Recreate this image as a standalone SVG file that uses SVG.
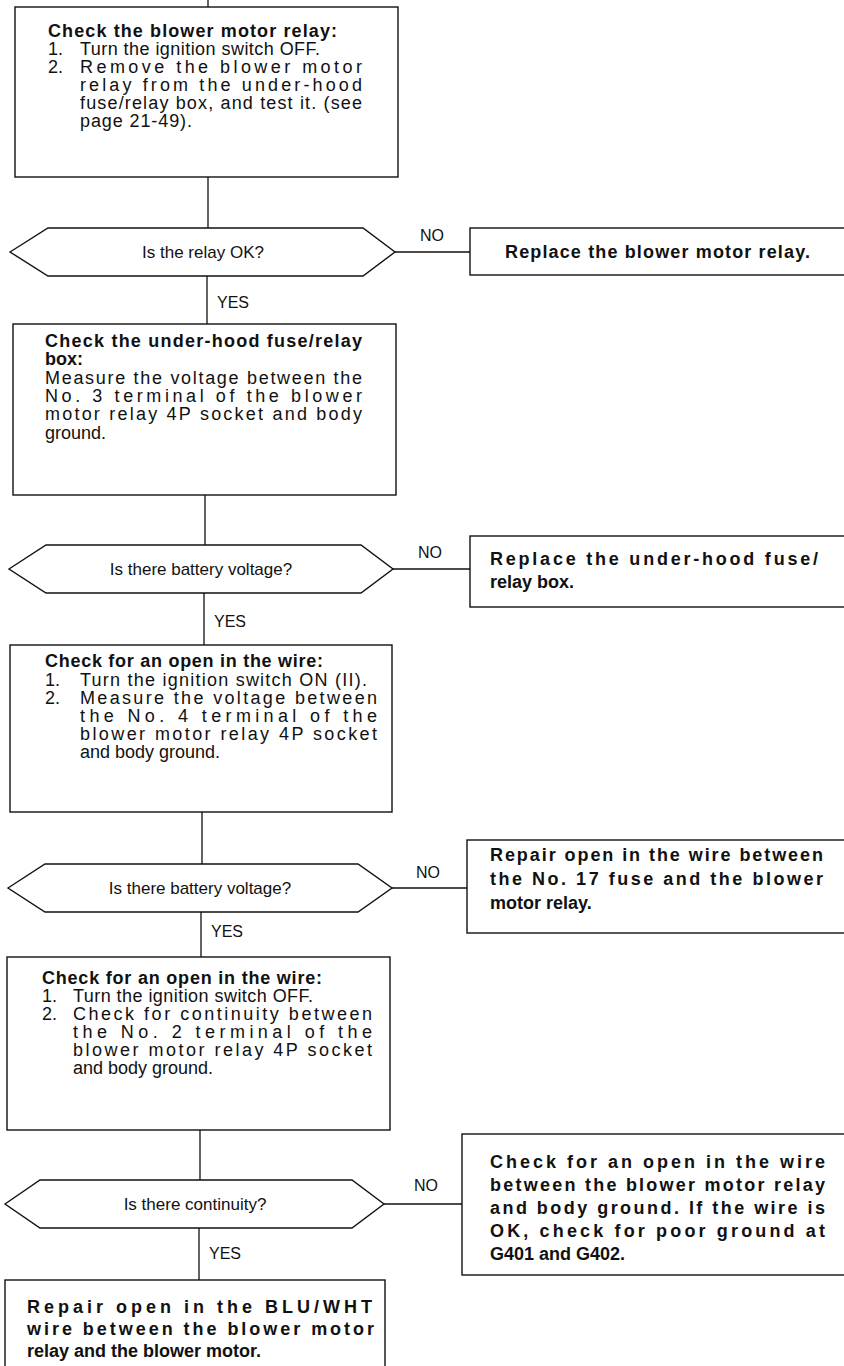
<svg xmlns="http://www.w3.org/2000/svg" width="844" height="1366" viewBox="0 0 844 1366">
<style>
.box{fill:#fff;stroke:#111;stroke-width:1.4}
.ln{fill:none;stroke:#111;stroke-width:1.3}
text{font-family:"Liberation Sans",Arial,sans-serif;fill:#111}
.t{font-size:18px}
.b{font-size:18px;font-weight:bold}
.rb{font-size:18px;font-weight:bold}
.q{font-size:17px;text-anchor:middle}
.lab{font-size:16px}
</style>
<rect width="844" height="1366" fill="#fff"/>
<g id="connectors">
<path class="ln" d="M208 0V7M208 177V228M207 276V324M205 495V545M204 593V645M202 812V864M201 912V957M200 1130V1180M199 1228V1280"/>
<path class="ln" d="M395 252H470M393 569H470M392 888H467M384 1204H462"/>
<text class="lab" x="420" y="241">NO</text>
<text class="lab" x="418" y="558">NO</text>
<text class="lab" x="416" y="878">NO</text>
<text class="lab" x="414" y="1191">NO</text>
<text class="lab" x="217" y="308">YES</text>
<text class="lab" x="214" y="627">YES</text>
<text class="lab" x="211" y="937">YES</text>
<text class="lab" x="209" y="1259">YES</text>
</g>
<g id="n1">
<rect class="box" x="15" y="7" width="383" height="170"/>
<text class="b" x="48" y="37" textLength="289" lengthAdjust="spacing">Check the blower motor relay:</text>
<text class="t" x="48" y="55">1.</text>
<text class="t" x="80" y="55" textLength="240" lengthAdjust="spacing">Turn the ignition switch OFF.</text>
<text class="t" x="48" y="73">2.</text>
<text class="t" x="80" y="73" textLength="282" lengthAdjust="spacing">Remove the blower motor</text>
<text class="t" x="80" y="91" textLength="282" lengthAdjust="spacing">relay from the under-hood</text>
<text class="t" x="80" y="109" textLength="282" lengthAdjust="spacing">fuse/relay box, and test it. (see</text>
<text class="t" x="80" y="127" textLength="112" lengthAdjust="spacing">page 21-49).</text>
</g>
<g id="d1">
<polygon class="box" points="10,252 48,228 363,228 395,252 363,276 48,276"/>
<text class="q" x="203" y="258">Is the relay OK?</text>
</g>
<g id="r1">
<rect class="box" x="470" y="228" width="390" height="47"/>
<text class="rb" x="505" y="258" textLength="305" lengthAdjust="spacing">Replace the blower motor relay.</text>
</g>
<g id="n2">
<rect class="box" x="13" y="324" width="383" height="171"/>
<text class="b" x="45" y="347" textLength="317" lengthAdjust="spacing">Check the under-hood fuse/relay</text>
<text class="b" x="45" y="365">box:</text>
<text class="t" x="45" y="384" textLength="317" lengthAdjust="spacing">Measure the voltage between the</text>
<text class="t" x="45" y="402" textLength="317" lengthAdjust="spacing">No. 3 terminal of the blower</text>
<text class="t" x="45" y="420" textLength="317" lengthAdjust="spacing">motor relay 4P socket and body</text>
<text class="t" x="45" y="439">ground.</text>
</g>
<g id="d2">
<polygon class="box" points="9,569 46,545 361,545 393,569 361,593 46,593"/>
<text class="q" x="201" y="575">Is there battery voltage?</text>
</g>
<g id="r2">
<rect class="box" x="470" y="536" width="390" height="71"/>
<text class="rb" x="490" y="565" textLength="328" lengthAdjust="spacing">Replace the under-hood fuse/</text>
<text class="rb" x="490" y="588">relay box.</text>
</g>
<g id="n3">
<rect class="box" x="10" y="645" width="382" height="167"/>
<text class="b" x="45" y="667" textLength="278" lengthAdjust="spacing">Check for an open in the wire:</text>
<text class="t" x="45" y="686">1.</text>
<text class="t" x="80" y="686" textLength="287" lengthAdjust="spacing">Turn the ignition switch ON (II).</text>
<text class="t" x="45" y="704">2.</text>
<text class="t" x="80" y="704" textLength="297" lengthAdjust="spacing">Measure the voltage between</text>
<text class="t" x="80" y="722" textLength="297" lengthAdjust="spacing">the No. 4 terminal of the</text>
<text class="t" x="80" y="740" textLength="297" lengthAdjust="spacing">blower motor relay 4P socket</text>
<text class="t" x="80" y="758">and body ground.</text>
</g>
<g id="d3">
<polygon class="box" points="8,888 45,864 358,864 392,888 358,912 45,912"/>
<text class="q" x="200" y="894">Is there battery voltage?</text>
</g>
<g id="r3">
<rect class="box" x="467" y="840" width="390" height="93"/>
<text class="rb" x="490" y="861" textLength="333" lengthAdjust="spacing">Repair open in the wire between</text>
<text class="rb" x="490" y="885" textLength="333" lengthAdjust="spacing">the No. 17 fuse and the blower</text>
<text class="rb" x="490" y="909">motor relay.</text>
</g>
<g id="n4">
<rect class="box" x="7" y="957" width="383" height="173"/>
<text class="b" x="42" y="984" textLength="280" lengthAdjust="spacing">Check for an open in the wire:</text>
<text class="t" x="42" y="1002">1.</text>
<text class="t" x="73" y="1002" textLength="240" lengthAdjust="spacing">Turn the ignition switch OFF.</text>
<text class="t" x="42" y="1020">2.</text>
<text class="t" x="73" y="1020" textLength="299" lengthAdjust="spacing">Check for continuity between</text>
<text class="t" x="73" y="1038" textLength="299" lengthAdjust="spacing">the No. 2 terminal of the</text>
<text class="t" x="73" y="1056" textLength="299" lengthAdjust="spacing">blower motor relay 4P socket</text>
<text class="t" x="73" y="1074">and body ground.</text>
</g>
<g id="d4">
<polygon class="box" points="5,1204 40,1180 352,1180 384,1204 352,1228 40,1228"/>
<text class="q" x="195" y="1210">Is there continuity?</text>
</g>
<g id="r4">
<rect class="box" x="462" y="1134" width="395" height="141"/>
<text class="rb" x="490" y="1168" textLength="335" lengthAdjust="spacing">Check for an open in the wire</text>
<text class="rb" x="490" y="1191" textLength="335" lengthAdjust="spacing">between the blower motor relay</text>
<text class="rb" x="490" y="1214" textLength="335" lengthAdjust="spacing">and body ground. If the wire is</text>
<text class="rb" x="490" y="1237" textLength="335" lengthAdjust="spacing">OK, check for poor ground at</text>
<text class="rb" x="490" y="1260">G401 and G402.</text>
</g>
<g id="n5">
<rect class="box" x="5" y="1280" width="380" height="100"/>
<text class="rb" x="27" y="1313" textLength="345" lengthAdjust="spacing">Repair open in the BLU/WHT</text>
<text class="rb" x="27" y="1335" textLength="347" lengthAdjust="spacing">wire between the blower motor</text>
<text class="rb" x="27" y="1357">relay and the blower motor.</text>
</g>
</svg>
